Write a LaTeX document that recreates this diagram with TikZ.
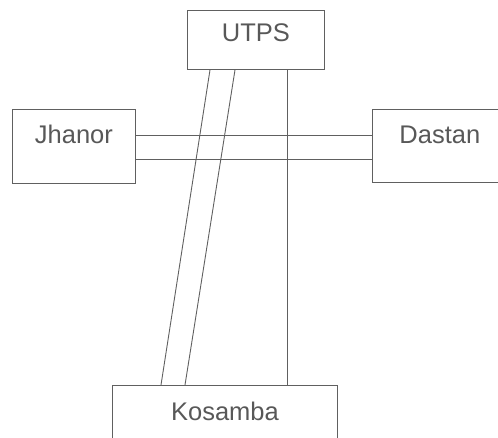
\documentclass[tikz,border=0pt]{standalone}
\usepackage{fontspec}
\setmainfont{Liberation Sans}
\usetikzlibrary{calc}
\definecolor{ink}{HTML}{606060}
\definecolor{txt}{HTML}{585858}
\begin{document}
\begin{tikzpicture}[x=1pt,y=-1pt,
  box/.style={draw=ink,line width=0.9pt,inner sep=0pt,anchor=north west,
    font=\fontsize{25.5}{28}\selectfont,text=txt,align=center},
  link/.style={draw=ink,line width=0.9pt}]
\useasboundingbox (0,0) rectangle (498,437);
\node[box,minimum width=137pt,text height=31pt,text depth=28pt] (u) at (187,10) {UTPS};
\node[box,minimum width=123pt,text height=34pt,text depth=40pt] (j) at (12,109) {Jhanor};
\node[box,minimum width=139pt,text height=34pt,text depth=39pt,text width=139pt,align=left] (d) at (372,109) {\hspace*{27pt}Dastan};
\node[box,minimum width=225pt,text height=35pt,text depth=25pt] (k) at (112,385) {Kosamba};
\draw[link] ($(u.south west)+(23,0)$) -- ($(k.north west)+(49,0)$);
\draw[link] ($(u.south west)+(48,0)$) -- ($(k.north west)+(73,0)$);
\draw[link] ($(u.south west)+(100,0)$) -- ($(k.north west)+(175,0)$);
\draw[link] ($(j.north east)+(0,26)$) -- ($(d.north west)+(0,26)$);
\draw[link] ($(j.north east)+(0,50)$) -- ($(d.north west)+(0,50)$);
\end{tikzpicture}
\end{document}
